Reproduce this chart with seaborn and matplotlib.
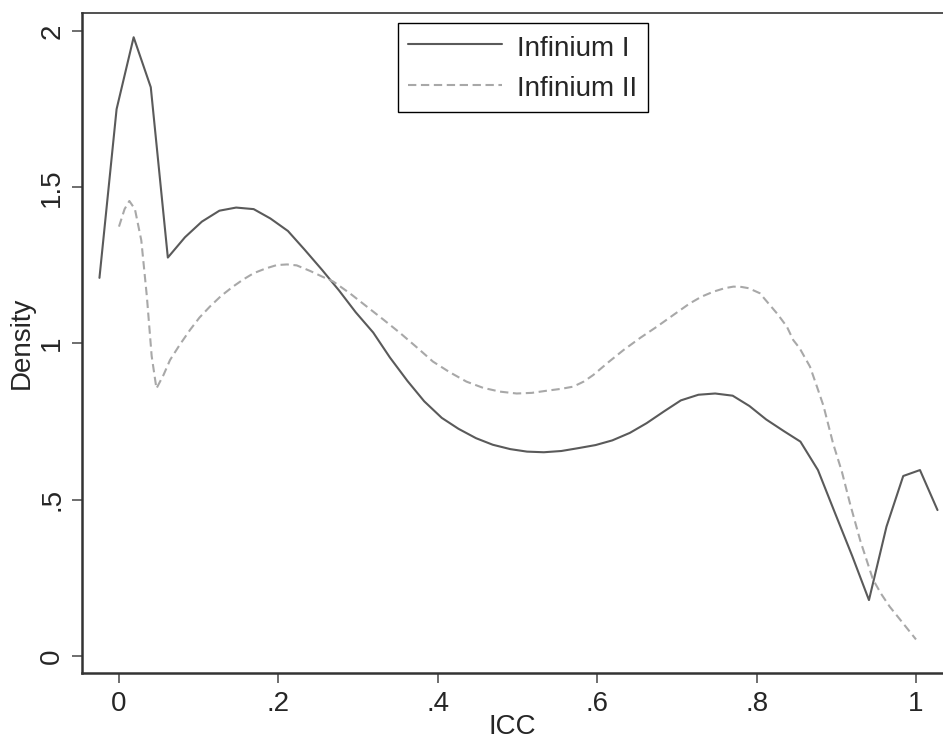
import matplotlib
matplotlib.use("Agg")
import matplotlib.pyplot as plt
import seaborn as sns
import pandas as pd

# Infinium I (solid) density estimate
icc_1 = [-0.0245, -0.003, 0.0184, 0.0399, 0.0613, 0.0828, 0.104, 0.126, 0.147, 0.169,
         0.190, 0.212, 0.233, 0.255, 0.276, 0.297, 0.319, 0.340, 0.362, 0.383,
         0.405, 0.426, 0.448, 0.469, 0.491, 0.512, 0.533, 0.555, 0.576, 0.598,
         0.619, 0.641, 0.662, 0.684, 0.705, 0.727, 0.748, 0.770, 0.791, 0.812,
         0.834, 0.855, 0.877, 0.898, 0.920, 0.941, 0.963, 0.984, 1.005, 1.027]
dens_1 = [1.21, 1.75, 1.98, 1.82, 1.275, 1.34, 1.39, 1.425, 1.435, 1.43,
          1.40, 1.36, 1.30, 1.235, 1.17, 1.10, 1.035, 0.955, 0.88, 0.815,
          0.762, 0.727, 0.697, 0.676, 0.662, 0.654, 0.652, 0.656, 0.665, 0.675,
          0.690, 0.714, 0.745, 0.783, 0.818, 0.836, 0.840, 0.833, 0.800, 0.757,
          0.720, 0.686, 0.595, 0.46, 0.32, 0.179, 0.414, 0.576, 0.595, 0.467]

# Infinium II (dashed) density estimate
icc_2 = [0.000, 0.007, 0.013, 0.020, 0.028, 0.035, 0.041, 0.047, 0.056, 0.064,
         0.076, 0.089, 0.101, 0.114, 0.128, 0.143, 0.156, 0.169, 0.184, 0.198,
         0.211, 0.223, 0.240, 0.255, 0.269, 0.290, 0.311, 0.332, 0.353, 0.374,
         0.394, 0.415, 0.436, 0.457, 0.478, 0.499, 0.518, 0.537, 0.555, 0.570,
         0.583, 0.595, 0.614, 0.633, 0.654, 0.675, 0.696, 0.716, 0.731, 0.746,
         0.760, 0.771, 0.781, 0.790, 0.804, 0.813, 0.826, 0.838, 0.846, 0.854,
         0.867, 0.876, 0.884, 0.896, 0.907, 0.917, 0.930, 0.946, 0.956, 0.967,
         0.984, 1.000]
dens_2 = [1.374, 1.43, 1.456, 1.43, 1.33, 1.15, 0.96, 0.856, 0.90, 0.947,
          0.995, 1.043, 1.083, 1.118, 1.152, 1.182, 1.205, 1.225, 1.240, 1.251,
          1.253, 1.250, 1.232, 1.214, 1.198, 1.16, 1.118, 1.076, 1.033, 0.987,
          0.942, 0.908, 0.878, 0.858, 0.846, 0.840, 0.842, 0.849, 0.855, 0.862,
          0.878, 0.899, 0.94, 0.979, 1.018, 1.054, 1.092, 1.128, 1.150, 1.166,
          1.177, 1.182, 1.181, 1.177, 1.161, 1.134, 1.095, 1.054, 1.011, 0.985,
          0.926, 0.86, 0.80, 0.68, 0.59, 0.49, 0.37, 0.245, 0.20, 0.158,
          0.104, 0.053]

series_names = ["Infinium I", "Infinium II"]
x_ticks = [0, 0.2, 0.4, 0.6, 0.8, 1.0]
x_tick_labels = ["0", ".2", ".4", ".6", ".8", "1"]
y_ticks = [0, 0.5, 1.0, 1.5, 2.0]
y_tick_labels = ["0", ".5", "1", "1.5", "2"]

sns.set_style("white")
plt.rcParams["font.family"] = ["Liberation Sans", "DejaVu Sans"]

df1 = pd.DataFrame({"ICC": icc_1, "Density": dens_1})
df2 = pd.DataFrame({"ICC": icc_2, "Density": dens_2})

fig = plt.figure(figsize=(9.43, 7.45), dpi=100)
ax = fig.add_axes([82 / 943, 72 / 745, (943 - 82) / 943, 660 / 745])

sns.lineplot(data=df1, x="ICC", y="Density", ax=ax, estimator=None, sort=False,
             color="#5a5a5a", linewidth=1.5, label=series_names[0])
sns.lineplot(data=df2, x="ICC", y="Density", ax=ax, estimator=None, sort=False,
             color="#a8a8a8", linewidth=1.5, dashes=False, label=series_names[1])
ax.lines[1].set_dashes((4, 2.2))

ax.set_xlim(-0.0464, 1.0339)
ax.set_ylim(-0.0544, 2.0576)

ax.set_xticks(x_ticks)
ax.set_xticklabels(x_tick_labels, fontsize=20)
ax.set_yticks(y_ticks)
ax.set_yticklabels(y_tick_labels, fontsize=20, rotation=90, va="center")
ax.tick_params(axis="x", direction="out", length=7, width=1.2, color="#555555",
               pad=6, bottom=True)
ax.tick_params(axis="y", direction="out", length=7, width=1.2, color="#555555",
               pad=5, left=True)

ax.set_xlabel("ICC", fontsize=20, labelpad=-2)
ax.set_ylabel("Density", fontsize=20, labelpad=3)

for side in ["left", "bottom"]:
    ax.spines[side].set_linewidth(1.8)
    ax.spines[side].set_color("#333333")
ax.spines["top"].set_linewidth(1.2)
ax.spines["top"].set_color("#333333")
ax.spines["right"].set_visible(False)

leg = ax.legend(loc="upper left", bbox_to_anchor=(0.367, 0.985), fontsize=20,
                frameon=True, fancybox=False, shadow=False, framealpha=1,
                edgecolor="black", handlelength=3.4, handleheight=1.1,
                handletextpad=0.54, labelspacing=0.42, borderpad=0.36,
                borderaxespad=0)
leg.get_frame().set_linewidth(1.0)
leg.get_lines()[1].set_dashes((4, 2.2))

fig.savefig("out.png", dpi=100)
